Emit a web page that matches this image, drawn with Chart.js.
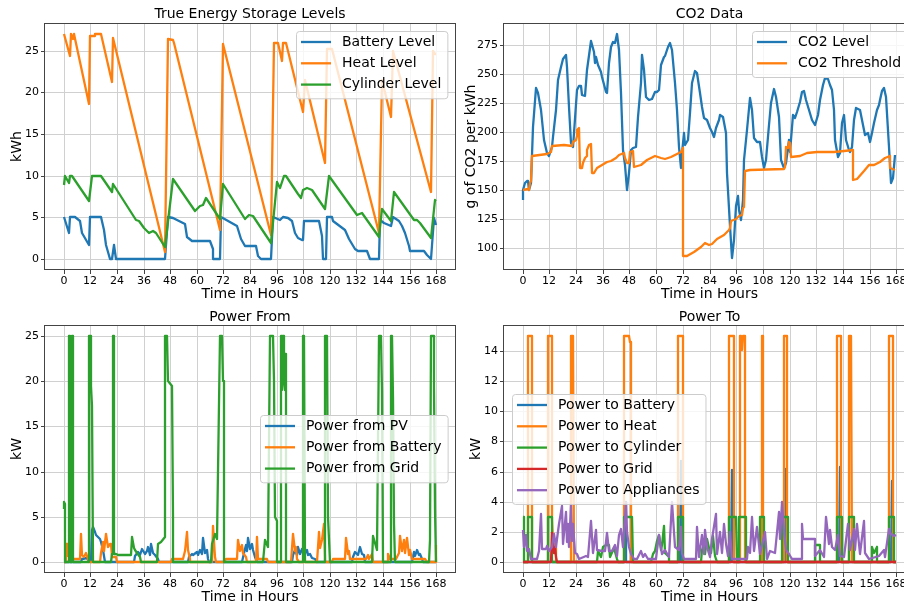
<!DOCTYPE html>
<html>
<head>
<meta charset="utf-8">
<script src="https://cdn.jsdelivr.net/npm/chart.js@4.4.1/dist/chart.umd.min.js"></script>
<style>
  html, body { margin: 0; padding: 0; background: #fff; overflow: hidden; }
  canvas { position: absolute; }
</style>
</head>
<body>
<canvas id="storage" width="460" height="300" style="left:0;top:0"></canvas>
<canvas id="co2" width="475" height="300" style="left:455px;top:0"></canvas>
<canvas id="powerFrom" width="460" height="305" style="left:0;top:300px"></canvas>
<canvas id="powerTo" width="475" height="305" style="left:455px;top:300px"></canvas>
<script>
// tick labels
var hourTicks = [0, 12, 24, 36, 48, 60, 72, 84, 96, 108, 120, 132, 144, 156, 168];
var kwhTicks = [0, 5, 10, 15, 20, 25];
var co2Ticks = [100, 125, 150, 175, 200, 225, 250, 275];
var fromTicks = [0, 5, 10, 15, 20, 25];
var toTicks = [0, 2, 4, 6, 8, 10, 12, 14];

// [hour, value]
var batteryLevel = [[0,5.0],[2.3,3.1],[2.7,5.0],[5,5.0],[7.2,4.5],[8.4,3.1],[11.4,1.7],[12,5.0],[17,5.0],[18.2,3.5],[19.3,1.7],[20.8,0],[21.8,0],[22.6,1.7],[23.8,0],[45.9,0],[47.1,5.0],[49.4,4.9],[54.6,4.2],[55.7,2.6],[57.7,2.1],[66,2.1],[67.1,1.2],[67.4,0],[70.4,0],[70.8,5.0],[78.3,4.0],[79.8,2.4],[81.7,1.5],[86.7,1.5],[87.8,0.3],[88.8,0],[93.3,0],[94.5,5.0],[97.5,4.7],[98.8,5.0],[101.3,4.9],[102.8,4.5],[104.3,3.1],[105.8,2.5],[107.3,2.2],[108.1,2.2],[108.5,4.6],[114.9,4.6],[116.4,2.7],[117.1,0],[118.2,0],[118.6,5.0],[120.9,5.0],[121.6,4.5],[126.9,3.5],[128.4,2.4],[131.4,1.2],[132.5,0.9],[136.7,0.9],[138.2,0],[142.3,0],[142.7,4.7],[144.2,4.3],[147.5,3.9],[148.3,5.0],[151,4.6],[152.5,3.9],[154,3.1],[155.5,1.5],[156.3,0.9],[162.3,0.9],[163.8,0.4],[165.6,0],[166.8,4.9],[168,4.1]];
var heatLevel = [[0,27.0],[2.7,24.4],[3.2,27.0],[3.5,27.0],[4.0,26.4],[4.5,27.0],[11.4,18.6],[11.7,26.8],[14,26.8],[14.2,27.0],[17,27.0],[21.8,21.3],[22.4,26.6],[45.9,0.8],[47.1,26.4],[49.4,26.3],[49.8,26.0],[70.4,3.5],[71.7,25.8],[93.3,2.9],[94.8,26.0],[96.5,26.0],[98.3,23.8],[98.8,26.0],[100.3,26.0],[100.5,25.5],[107.8,17.7],[108.6,21.5],[117.6,11.5],[118.6,25.2],[120.9,25.2],[142.3,3.1],[143.5,21.5],[147.5,17.0],[148.3,25.0],[165.6,8.0],[166.3,25.0],[167.5,24.6],[168,24.6]];
var cylinderLevel = [[0,8.9],[0.5,9.9],[2.3,9.1],[3.0,10.0],[3.8,9.9],[11.4,6.9],[12.9,10.0],[17,10.0],[21.8,8.0],[22.4,9.0],[32.8,4.7],[34,4.5],[36.1,3.7],[38.5,3.1],[40.3,3.3],[41.8,3.1],[45.9,1.4],[49.1,9.6],[59.2,5.7],[61.4,6.3],[62.9,6.5],[64,7.3],[65.2,6.9],[70.4,4.8],[72,9.0],[81.7,4.8],[83.7,5.3],[85.5,5.1],[93.3,1.9],[96,9.2],[97.5,8.5],[99.4,10.0],[100.3,10.0],[105.5,7.8],[107,7.3],[108.1,8.3],[109.6,8.5],[111.8,8.3],[117.6,6.0],[119.4,10.0],[132.2,5.3],[134.4,5.5],[142.3,2.6],[143.5,6.0],[147.5,4.5],[149,8.0],[157.8,4.7],[159.3,4.7],[160.8,4.3],[165.6,2.5],[167.5,7.1],[168,6.9]];

var co2Level = [[0,141.7],[0.3,150.3],[0.9,156.6],[1.8,157.5],[2.4,158],[3,150.3],[3.9,156.6],[4.8,204.7],[6,237.5],[6.9,233.3],[8.1,219],[9.6,193.2],[11.1,181.8],[12,179.5],[13,187.5],[13.8,196],[14.8,219],[15.9,244.7],[17.1,256.1],[18.3,262.4],[19.3,266.1],[20.1,256.1],[20.8,221.8],[21.9,190.4],[22.6,187.5],[23.1,199],[24.3,236.1],[25.3,239.5],[26,239.5],[26.8,231.8],[27.8,231],[29,253.3],[30.8,278.4],[32,269],[32.5,259],[33.1,264.7],[34,257.6],[35,251.8],[35.8,247.6],[37.3,234.7],[38,233.3],[38.8,259],[39.5,273.3],[40.6,277.6],[41.3,276.7],[42.5,284.2],[43.3,270.4],[44,233.3],[45.2,184.6],[45.8,171.8],[46.7,150.3],[47.8,164.6],[48.5,184.6],[49.7,186.1],[50.8,187.5],[51.8,213.2],[53,241.8],[53.8,266.1],[54.5,253.3],[55.5,230.4],[56.7,227.5],[58.2,228.1],[59.3,234.7],[60.5,234.7],[61.2,236.1],[62.4,257.6],[63.5,264.7],[64.2,265.3],[65.3,273.3],[66.2,276.2],[67.2,270.4],[68.3,241.8],[69.2,219],[70.2,187.5],[71,168.9],[71.7,181.8],[72.5,199],[73.2,188.9],[74.3,193.2],[75.2,216.1],[76.2,241.8],[77.4,252.7],[78.5,251],[79.7,233.3],[80.7,221.8],[81.7,211.8],[82.9,210.4],[84.1,203.2],[85.2,200.4],[85.9,196],[87.1,203.2],[88.2,210.4],[88.9,214.7],[90.1,213.2],[91.2,199],[92,164.6],[93.1,118.9],[94.2,91.7],[94.9,107.4],[95.7,136],[96.7,144.6],[97.3,133.2],[98.2,124.6],[99.1,141.7],[99.7,176.1],[100.9,201.8],[102,229],[102.9,219],[103.9,194.6],[105.4,191.8],[106.6,191.8],[107.6,178.9],[108.4,168.9],[109.6,176.1],[110.6,206.1],[111.7,224.7],[112.9,236.7],[114.1,230.4],[115.1,213.2],[116.2,176.1],[117.4,168.9],[118.6,173.2],[119.6,193.2],[120.4,183.2],[121.4,214.7],[122.3,211.8],[123.4,217.5],[124.6,226.1],[125.6,234.7],[126.7,235.5],[127.6,227.5],[128.6,219],[130.1,210.4],[131.6,206.1],[132.8,214.7],[133.9,227.5],[135.1,240.4],[136.1,246.1],[137.1,245.3],[138,240.4],[139.1,236.1],[139.8,219],[140.6,193.2],[141.6,178.9],[142.5,181.8],[143.6,207.5],[144.6,214.7],[145.5,193.2],[146.6,184.6],[147.3,183.2],[148.1,187.5],[148.8,210.4],[150,220.4],[151.5,219],[153,206.1],[154.1,197.5],[155.2,198.9],[156,191.8],[157.1,198.9],[158.1,207.5],[159.3,219],[160.1,223.2],[160.8,227.5],[161.5,235.5],[162.6,237.5],[163.5,230.4],[164.6,187.5],[165.6,156],[166.5,160.3],[167.5,180.4]];
var co2Threshold = [[0,150.3],[2.4,150.9],[3,150.3],[3.3,156.6],[3.9,157.5],[4,179.5],[11.1,181],[12.6,182.4],[13,188.1],[18.6,189],[22.3,188.4],[22.7,191.8],[23.8,193.2],[24.3,196.7],[24.6,201.8],[25.3,203.2],[25.8,168.9],[26.8,168.9],[27.1,173.2],[27.8,177.5],[28.7,179.5],[29,184.6],[29.8,189],[30.8,189.8],[31.1,164.6],[32,165.2],[33.5,168.9],[35.8,171.8],[37.7,174.6],[39.5,175.5],[41.8,177.5],[43.3,180.4],[45.5,181.8],[45.8,177.5],[47,173.2],[47.8,173.2],[48.1,183.2],[49.7,184.1],[50,170.3],[53,171.8],[56,176.1],[59.7,179.5],[62,177.5],[64.2,176.6],[66.5,178.9],[69.5,181.2],[71,183.2],[71.9,186.1],[72,93.7],[74,93.1],[77,96.6],[80,101.1],[82.2,104.6],[83.7,103.1],[85.2,103.7],[87.4,108],[90.4,111.7],[92.7,116],[93.4,117.4],[93.7,123.2],[95.7,125.2],[97.2,127.5],[98.7,128.9],[99,134.6],[99.7,135.5],[99.9,166.9],[102.4,167.5],[117.4,168.1],[118.1,170.3],[118.6,187.5],[119.2,186.1],[119.6,191.8],[120.4,190.4],[120.7,178.9],[124.9,179.5],[127.9,181.8],[132.4,182.4],[139.8,183.2],[144.3,184.1],[148.5,184.6],[148.7,158.9],[150.3,159.5],[153.3,166.1],[155.6,171.8],[157.9,171.8],[160.8,174.6],[163.1,177.5],[165,179.5],[165.3,168.9],[167.5,167.5]];

var powerFromPV = [[0,0],[8,0],[8.5,0.3],[10.5,0.4],[11,0.2],[12.4,0],[12.6,3.5],[13.2,3.85],[14,3.3],[14.6,3.0],[15.5,2.7],[16.3,2.5],[17,2.2],[17.8,1.3],[18.5,0],[31.5,0],[32,0.6],[33.6,1.1],[34.2,0.7],[35.1,1.4],[36.6,0.9],[37.4,1.2],[38.1,1.6],[39,0.8],[39.6,2.0],[40.3,1.0],[41.1,0.7],[42.6,0.3],[43,0],[56,0],[56.5,0.5],[57.7,0.9],[58.5,0.7],[59.9,1.1],[60.7,0.8],[61.4,1.3],[62.2,0.9],[62.9,2.6],[63.6,1.0],[64.4,1.3],[65.2,0.3],[65.6,0],[80.5,0],[81.2,1.0],[82,1.8],[82.6,1.2],[83.3,2.6],[84.2,1.4],[85,2.0],[85.5,1.3],[86.3,0.5],[87,0],[103,0],[103.6,0.8],[104.3,1.3],[105,0.7],[105.8,1.6],[106.5,0.9],[107.5,1.4],[108.4,0.8],[109.6,1.3],[110.3,0.7],[111.1,0.9],[112,0.4],[113.4,0.3],[114,0],[130,0],[130.6,0.5],[131.4,1.1],[132.5,0.7],[133.7,1.6],[134.4,0.9],[135.2,0.7],[136,0],[157,0],[157.8,1.1],[158.5,0.6],[159.3,1.3],[160,0.8],[160.8,0.9],[161.5,0.3],[162,0],[168,0]];
var powerFromBattery = [[0,0],[1.0,0],[1.2,2.0],[2.0,2.0],[2.1,0.6],[2.7,0.7],[3.0,0.25],[7.6,0.25],[8.0,3.1],[8.4,0.7],[9.2,0.5],[10,1.0],[11,0.3],[11.4,0],[16.5,0],[17,1.0],[17.8,2.2],[18.4,1.2],[19.3,3.1],[20,1.6],[20.7,2.0],[21.5,2.0],[22,0.5],[23.8,0.5],[24.2,0],[48.5,0],[49,0.25],[53.8,0.25],[54.6,1.2],[55.4,3.3],[56.1,1.3],[56.8,0.3],[57,0],[66.9,0],[67.4,4.0],[68,0.5],[68.5,0],[72.5,0],[73,0.25],[78,0.25],[78.7,2.4],[79.3,1.2],[80.2,1.8],[81,1.0],[82,0.5],[82.5,0],[86.5,0],[87,2.7],[87.6,0.3],[91.5,0.25],[92,0],[102.5,0],[103.6,3.1],[104.2,1.2],[104.8,1.6],[105.3,0.3],[106,0],[114,0],[114.9,3.3],[115.6,1.5],[116.3,2.4],[117.2,4.2],[117.6,0.5],[118,0],[121,0],[121.5,0.25],[126.8,0.25],[127.4,2.6],[128,0.9],[128.6,1.2],[129.2,0.25],[136.5,0.25],[137,0.8],[137.6,0.3],[138.9,0.9],[139.3,0],[146,0],[146.4,0.9],[146.9,0.3],[150,0.25],[151,1.0],[151.7,2.9],[152.4,1.2],[153.3,2.4],[154,1.0],[154.8,2.6],[155.5,0.8],[156.3,1.3],[157,0.25],[163,0.25],[164,0],[167.9,0],[168,1.8]];
var powerFromGrid = [[0,5.8],[0.3,6.6],[0.6,6.4],[0.75,0],[2.2,0],[2.3,25],[2.7,25],[2.8,0],[3.8,0],[3.9,25],[4.1,25],[4.2,0],[11.3,0],[11.4,25],[12.3,25],[12.5,19.5],[12.9,17.3],[13.2,0],[21.5,0],[21.6,0.9],[22.2,0.9],[22.3,25],[22.8,25],[22.9,0.9],[23.8,0.9],[24.5,0.7],[30.5,0.7],[30.9,2.7],[31.5,1.5],[32,1.3],[33,1.0],[34.3,0.5],[35,0],[42,0],[42.6,2.0],[44.1,2.2],[45.6,2.7],[45.8,25],[46.8,25],[47.1,20],[48.8,19.5],[49.1,5],[49.3,2.5],[49.5,0],[66.5,0],[66.7,2.0],[68.2,3.1],[69,2.5],[70.3,25],[71.4,25],[71.7,20],[72.2,20],[72.3,0],[90,0],[90.8,2.4],[92.3,1.6],[93.2,25],[94.5,25],[94.8,20],[95.3,5],[96,4.5],[96.3,0],[97.9,0],[98,25],[98.5,25],[98.6,19],[98.9,25],[99.2,25],[99.4,20],[99.6,19],[99.8,23],[100.2,23],[100.3,0],[108,0],[108.1,25],[108.5,25],[108.6,0],[117.8,0],[117.9,25],[118.9,25],[119.3,5],[120,0],[139,0],[139.6,2.9],[141.2,1.3],[142.2,25],[143.2,25],[143.5,18.8],[143.8,0],[147.4,0],[147.5,25],[148.1,25],[148.3,18.2],[148.8,4.2],[149.5,0],[164.5,0],[165.3,2.4],[165.6,25],[166.8,25],[167,19.5],[167.5,5.8],[167.8,0],[168,0]];

var powerToBattery = [[0,0],[46.0,0],[46.3,4.0],[46.6,0],[70.7,0],[71.0,6.7],[71.3,0],[93.8,0],[94.1,6.1],[94.4,0],[118.3,0],[118.6,6.2],[118.9,0],[142.4,0],[142.7,6.3],[143.0,0],[165.7,0],[166.0,5.4],[166.3,0.9],[166.6,0],[168,0]];
var powerToHeat = [[0,0],[2.3,0],[2.4,15],[4.3,15],[4.4,0],[11.3,0],[11.4,15],[13.0,15],[13.1,2.8],[13.8,1.3],[14.8,1.0],[15.2,0],[21.8,0],[21.9,15],[22.8,15],[22.9,0],[45.4,0],[45.5,15],[47.8,15],[48.2,14.6],[48.8,14.6],[48.9,0],[69.8,0],[69.9,15],[72.0,15],[72.1,0],[92.6,0],[92.7,15],[94.9,15],[95.0,0],[97.5,0],[97.6,15],[98.2,15],[98.5,14.1],[98.8,14.1],[99.1,15],[99.9,15],[100.0,0],[107.5,0],[107.6,15],[108.1,15],[108.2,0],[117.3,0],[117.4,15],[118.9,15],[119.0,0],[141.2,0],[141.3,15],[143.1,15],[143.2,0],[146.8,0],[146.9,15],[147.8,15],[147.9,0],[164.5,0],[164.6,15],[166.5,15],[166.6,0],[168,0]];
var powerToCylinder = [[0,3.0],[0.6,3.0],[0.7,0],[2.3,0],[2.4,3.0],[4.3,3.0],[4.4,0],[11.3,0],[11.4,3.0],[13.2,3.0],[13.3,0],[33.5,0],[34,0.7],[35,0.3],[36,1.0],[37.3,1.1],[38.8,1.1],[39.2,0.3],[41,0.9],[42.5,0.2],[43,0],[45.4,0],[45.5,3.0],[49.3,3.0],[49.4,0],[57.8,0],[58.5,0.5],[59.7,0.7],[60.5,1.4],[61.5,1.8],[62.2,0.8],[62.7,1.1],[63.4,2.4],[63.9,0.6],[65.7,0.3],[66,0],[69.8,0],[69.9,3.0],[72.0,3.0],[72.1,0],[80,0],[80.7,0.8],[81.5,1.2],[82.2,0.5],[83,1.5],[83.8,0.9],[84.5,0.6],[85.5,1.7],[86.5,0.4],[87.4,0],[92.6,0],[92.7,3.0],[96.1,3.0],[96.2,0],[97.1,0],[97.2,3.0],[100.2,3.0],[100.3,0],[106.8,0],[106.9,3.0],[108.4,3.0],[108.5,0],[116.5,0],[116.6,3.0],[119.2,3.0],[119.3,0],[131.5,0],[131.6,1.1],[133.8,1.1],[133.9,0],[141.2,0],[141.3,3.0],[143.6,3.0],[143.7,0],[146.5,0],[146.6,3.0],[148.8,3.0],[148.9,0],[157,0],[157.1,1.0],[158,0.6],[159.3,1.0],[159.4,0],[164.5,0],[164.6,3.0],[166.8,3.0],[166.9,0],[168,0]];
var powerToGrid = [[0,0],[12.8,0],[13.2,1.9],[13.8,1.2],[14.2,0.6],[14.5,1.0],[14.9,0.3],[15.3,0],[168,0]];
var powerToAppliances = [[0,2.1],[0.6,0.95],[1.3,1.8],[2.1,0.7],[2.8,0.85],[3.6,0.2],[6.6,0.2],[7.3,0.7],[8.1,3.2],[8.8,0.85],[10.3,0.85],[11.1,1.05],[11.8,0.7],[13.3,0.95],[14.1,1.85],[14.8,0.95],[15.6,1.5],[16.3,2.5],[17.5,3.7],[18.2,1.2],[19.3,3.3],[19.8,1.3],[20.4,2.5],[21.0,1.0],[21.9,3.8],[22.3,1.4],[22.8,2.5],[23.5,0.6],[24.6,0.5],[25.5,0.2],[28.3,0.4],[29.5,0.3],[30.5,2.7],[31.7,0.6],[32.8,2.1],[33.5,0.8],[35.8,0.7],[37.2,0.7],[38,1.9],[38.6,0.7],[40.3,0.7],[41.3,1.1],[42.5,0.4],[43.3,1.8],[44,2.2],[45,1.0],[45.6,2.0],[46.3,3.9],[47,2.0],[47.7,1.0],[48.5,0.5],[50,0.2],[51.5,0.2],[53,0.7],[54,0.3],[55.2,0.5],[56.5,0.2],[60,0.2],[60.5,0.8],[61.5,1.8],[62.5,0.5],[64,0.8],[66,0.3],[67.2,4.0],[68.3,1.0],[70.2,0.8],[71,2.3],[71.6,0.6],[72.5,0.2],[78,0.2],[78.5,2.3],[79.2,0.3],[80.7,1.8],[81.4,0.5],[82.2,2.1],[82.9,1.0],[84.1,0.3],[85.2,1.5],[86.7,3.2],[87.4,0.5],[88.6,2.0],[89.7,0.6],[90.4,2.5],[91.2,1.2],[92.2,0.4],[93.1,2.0],[94.2,0.2],[101,0.2],[101.4,1.0],[102.3,0.6],[103.2,3.0],[104.2,0.7],[105.4,2.3],[106.6,0.5],[109.1,2.0],[109.9,0.2],[111,0.7],[113.6,0.6],[115.1,3.3],[115.9,1.5],[116.6,4.0],[117.4,2.0],[118.6,0.8],[119.6,0.5],[121.1,0.2],[125.5,0.2],[125.6,2.5],[126.2,1.5],[131.3,1.5],[131.6,0.4],[133.9,0.8],[135.4,0.3],[136.6,3.0],[137.6,1.2],[138.3,2.1],[139.1,1.0],[140.6,0.8],[141.6,1.8],[142.8,0.4],[144.3,0.3],[146.1,2.5],[147.3,0.8],[148.8,2.2],[149.6,0.8],[150.2,2.5],[151.5,0.5],[153.3,2.7],[154.1,0.6],[155.6,0.2],[160.1,0.4],[162.4,0.8],[163,0.3],[164.6,2.2],[165.3,1.9],[166.8,1.7],[168,1.8]];

var BLUE = '#1f77b4', ORANGE = '#ff7f0e', GREEN = '#2ca02c', RED = '#d62728', PURPLE = '#9467bd';

Chart.defaults.font.family = "'DejaVu Sans', sans-serif";
Chart.defaults.color = '#000';

// axes frame + matplotlib style legend box
var mplBox = {
  id: 'mplBox',
  afterDatasetsDraw: function(chart, args, o) {
    var a = chart.chartArea, ctx = chart.ctx;
    ctx.save();
    ctx.strokeStyle = '#444';
    ctx.lineWidth = 1;
    ctx.strokeRect(Math.round(a.left) - 0.5, Math.round(a.top) + 0.5,
                   Math.round(a.right - a.left) + 1, Math.round(a.bottom - a.top) - 1);

    var sets = chart.data.datasets;
    ctx.font = "14px 'DejaVu Sans'";
    var maxW = 0;
    sets.forEach(function(d) { maxW = Math.max(maxW, ctx.measureText(d.label).width); });
    var w = 5 + 30 + 11 + maxW + 6;
    var h = 11 + (sets.length - 1) * 21.3 + 13.7;
    ctx.beginPath();
    ctx.roundRect(o.x + 0.5, o.y + 0.5, w, h, 3);
    ctx.fillStyle = 'rgba(255,255,255,0.8)';
    ctx.fill();
    ctx.strokeStyle = '#cccccc';
    ctx.stroke();
    ctx.textBaseline = 'middle';
    ctx.textAlign = 'left';
    sets.forEach(function(d, i) {
      var cy = o.y + 11 + i * 21.3;
      ctx.beginPath();
      ctx.strokeStyle = d.borderColor;
      ctx.lineWidth = 2.3;
      ctx.moveTo(o.x + 5, cy);
      ctx.lineTo(o.x + 35, cy);
      ctx.stroke();
      ctx.fillStyle = '#000';
      ctx.fillText(d.label, o.x + 46, cy);
    });
    ctx.restore();
  }
};

function line(label, data, color, order) {
  return {
    label: label,
    data: data.map(function(p) { return {x: p[0], y: p[1]}; }),
    borderColor: color,
    backgroundColor: color,
    borderWidth: 2.3,
    pointRadius: 0,
    fill: false,
    tension: 0,
    borderJoinStyle: 'round',
    order: order
  };
}

function panel(id, c) {
  new Chart(document.getElementById(id), {
    type: 'line',
    data: { datasets: c.sets },
    options: {
      responsive: false,
      animation: false,
      events: [],
      layout: { padding: { left: 0, right: c.padRight, top: 0, bottom: 0 } },
      plugins: {
        legend: { display: false },
        tooltip: { enabled: false },
        title: {
          display: true, text: c.title, fullSize: false, color: '#000',
          font: { size: 14, weight: 'normal', lineHeight: 1 },
          padding: c.titlePad
        },
        mplBox: { x: c.legX, y: c.legY }
      },
      scales: {
        x: {
          type: 'linear', min: -8.4, max: 176.4, alignToPixels: true,
          afterBuildTicks: function(ax) { ax.ticks = hourTicks.map(function(v) { return {value: v}; }); },
          afterFit: function(ax) { ax.height = c.xHeight; },
          ticks: { autoSkip: false, maxRotation: 0, padding: 1, font: { size: 11 }, color: '#000' },
          grid: { color: '#d0d0d0', tickColor: '#444', tickLength: 4 },
          border: { display: false },
          title: {
            display: true, text: 'Time in Hours', color: '#000',
            font: { size: 14, lineHeight: c.xTitleLH }, padding: { top: 0, bottom: c.xTitlePad }
          }
        },
        y: {
          type: 'linear', min: c.yMin, max: c.yMax, alignToPixels: true,
          afterBuildTicks: function(ax) { ax.ticks = c.yTicks.map(function(v) { return {value: v}; }); },
          afterFit: function(ax) { ax.width = c.yWidth; },
          ticks: { padding: 2, font: { size: 11 }, color: '#000' },
          grid: { color: '#d0d0d0', tickColor: '#444', tickLength: 4 },
          border: { display: false },
          title: {
            display: true, text: c.yLabel, color: '#000',
            font: { size: 14, lineHeight: 1 }, padding: { top: c.yTitlePad, bottom: 0 }
          }
        }
      }
    },
    plugins: [mplBox]
  });
}

panel('storage', {
  title: 'True Energy Storage Levels',
  sets: [
    line('Battery Level', batteryLevel, BLUE, 3),
    line('Heat Level', heatLevel, ORANGE, 2),
    line('Cylinder Level', cylinderLevel, GREEN, 1)
  ],
  yTicks: kwhTicks, yMin: -1.35, yMax: 28.35, yLabel: 'kWh',
  yWidth: 45, yTitlePad: 10.5, xHeight: 30, xTitleLH: 0.8, xTitlePad: 0,
  padRight: 5, titlePad: { top: 7.3, bottom: 1.7 }, legX: 296, legY: 31
});

panel('co2', {
  title: 'CO2 Data',
  sets: [
    line('CO2 Level', co2Level, BLUE, 2),
    line('CO2 Threshold', co2Threshold, ORANGE, 1)
  ],
  yTicks: co2Ticks, yMin: 81.4, yMax: 293.7, yLabel: 'g of CO2 per kWh',
  yWidth: 49, yTitlePad: 9, xHeight: 30, xTitleLH: 0.8, xTitlePad: 0,
  padRight: 15, titlePad: { top: 7.3, bottom: 1.7 }, legX: 297, legY: 31
});

panel('powerFrom', {
  title: 'Power From',
  sets: [
    line('Power from PV', powerFromPV, BLUE, 3),
    line('Power from Battery', powerFromBattery, ORANGE, 2),
    line('Power from Grid', powerFromGrid, GREEN, 1)
  ],
  yTicks: fromTicks, yMin: -1.25, yMax: 26.25, yLabel: 'kW',
  yWidth: 45, yTitlePad: 10.5, xHeight: 32, xTitleLH: 1, xTitlePad: 0.5,
  padRight: 5, titlePad: { top: 10.5, bottom: 0.5 }, legX: 260, legY: 115
});

panel('powerTo', {
  title: 'Power To',
  sets: [
    line('Power to Battery', powerToBattery, BLUE, 5),
    line('Power to Heat', powerToHeat, ORANGE, 4),
    line('Power to Cylinder', powerToCylinder, GREEN, 3),
    line('Power to Grid', powerToGrid, RED, 2),
    line('Power to Appliances', powerToAppliances, PURPLE, 1)
  ],
  yTicks: toTicks, yMin: -0.75, yMax: 15.75, yLabel: 'kW',
  yWidth: 49, yTitlePad: 14, xHeight: 32, xTitleLH: 1, xTitlePad: 0.5,
  padRight: 15, titlePad: { top: 10.5, bottom: 0.5 }, legX: 57, legY: 94
});
</script>
</body>
</html>
